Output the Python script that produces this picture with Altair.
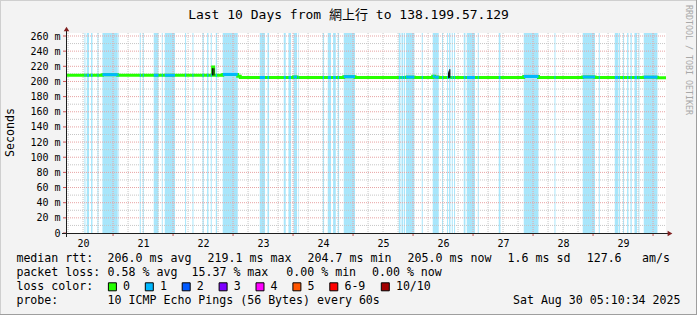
import altair as alt
import pandas as pd

# ---------------- data ----------------
TITLE = "Last 10 Days from 網上行 to 138.199.57.129"
X_START = 20 + (5 + 10 / 60 + 34 / 3600) / 24   # Aug 20 05:10:34
X_END = X_START + 10                             # Aug 30 05:10:34
Y_TOP = 260 * 200 / 197                          # value at the top edge of the canvas

day_labels = [20, 21, 22, 23, 24, 25, 26, 27, 28, 29]
major_x = [21, 22, 23, 24, 25, 26, 27, 28, 29, 30]
y_major = [20, 40, 60, 80, 100, 120, 140, 160, 180, 200, 220, 240, 260]
y_minor = [10, 30, 50, 70, 90, 110, 130, 150, 170, 190, 210, 230, 250]
y_ticks = [0, 20, 40, 60, 80, 100, 120, 140, 160, 180, 200, 220, 240, 260]

# packet-loss background bands (day of August)
band_start = [20.523, 20.562, 20.633, 20.740, 20.823, 21.090, 21.445, 21.495, 21.678, 21.812,
              21.862, 22.200, 22.323, 22.490, 22.567, 22.628, 22.712, 22.828, 23.445, 23.573,
              23.845, 23.923, 24.007, 24.090, 24.495, 24.578, 24.667, 24.745, 24.845, 25.762,
              25.807, 25.845, 25.883, 26.145, 26.328, 26.483, 26.567, 26.600, 26.645, 26.683,
              26.845, 26.895, 27.078, 27.428, 27.845, 28.357, 28.828, 29.095, 29.362, 29.433,
              29.500, 29.567, 29.623, 29.690, 29.757, 29.845]
band_end = [20.540, 20.600, 20.657, 20.757, 21.078, 21.100, 21.462, 21.512, 21.757, 21.828,
            22.033, 22.217, 22.340, 22.512, 22.590, 22.645, 22.733, 23.078, 23.533, 23.600,
            23.878, 23.967, 24.067, 24.100, 24.517, 24.633, 24.712, 24.767, 25.033, 25.790,
            25.833, 25.867, 26.023, 26.162, 26.428, 26.500, 26.583, 26.623, 26.662, 26.700,
            26.873, 27.033, 27.095, 27.457, 28.090, 28.373, 29.033, 29.112, 29.423, 29.450,
            29.517, 29.590, 29.645, 29.733, 29.773, 30.073]

# median rtt (ms), step changes
med_day = [X_START, 20.823, 21.078, 22.660, 22.677, 22.828, 23.078, 23.120, 24.007, 24.067,
           24.845, 25.033, 25.883, 26.023, 26.328, 26.360, 26.428, 27.845, 28.090, 28.828,
           29.033, 29.845, 30.073]
med_ms = [208.2, 209.0, 208.2, 219.1, 208.2, 209.3, 206.8, 205.2, 205.8, 205.2,
          206.3, 205.2, 205.7, 205.2, 206.8, 205.6, 205.2, 206.6, 205.2, 205.9,
          205.2, 205.7, 205.0]

# smoke above the median
smoke_start = [20.823, 22.828, 24.845, 25.883, 26.328, 27.845, 28.828, 29.845]
smoke_end = [21.078, 23.078, 25.033, 26.023, 26.428, 28.090, 29.033, 30.073]
smoke_top = [211.0, 211.0, 208.5, 207.5, 208.0, 208.8, 207.6, 207.2]

# dark smoke spikes
spike_day = [22.656, 22.681, 26.592, 26.600, 26.612]
spike_low = [208.0, 208.0, 205.0, 205.0, 205.0]
spike_high = [217.5, 217.5, 212.0, 214.0, 216.0]

rtt_parts = ["206.0 ms avg", "219.1 ms max", "204.7 ms min", "205.0 ms now", "1.6 ms sd", "127.6", "am/s"]
loss_parts = ["0.58 % avg", "15.37 % max", "0.00 % min", "0.00 % now"]
loss_labels = ["0", "1", "2", "3", "4", "5", "6-9", "10/10"]
loss_colors = ["#26ff00", "#00b8ff", "#0059ff", "#7e00ff", "#ff00ff", "#ff5500", "#ff0000", "#a10000"]
probe_text = "10 ICMP Echo Pings (56 Bytes) every 60s"
stamp_text = "Sat Aug 30 05:10:34 2025"

# ---------------- layout ----------------
W, H = 697, 315
OX, OY = 66, 33          # canvas origin in page pixels
PW, PH = 600, 200
MONO = "DejaVu Sans Mono"
BAND_C = "#a8e6fb"
MGRID_C = "#e8a3a3"
GRID_C = "#c6c6c6"
ARROW_C = "#7f1f1f"

xs = alt.Scale(domain=[X_START, X_END], nice=False, zero=False)
ys = alt.Scale(domain=[0, Y_TOP], nice=False, zero=True)

XAX = alt.Axis(values=[d + 0.5 for d in day_labels], labelExpr="floor(datum.value)",
               grid=False, ticks=False, domain=False, labelFont=MONO,
               labelFontSize=10, labelColor="#000000", labelPadding=5,
               labelAngle=0, labelAlign="center", labelBaseline="top")
YAX = alt.Axis(values=y_ticks,
               labelExpr="datum.value == 0 ? '0\u00a0\u00a0' : datum.value + ' m'",
               grid=False, domain=False, ticks=False, labelFont=MONO, labelFontSize=10,
               labelColor="#000000", labelPadding=6, labelAlign="right", labelBaseline="middle",
               titleFont=MONO, titleFontSize=11.6, titleFontWeight="normal", titleColor="#000000",
               titleX=-56, titleY=132 - OY, titleAngle=270, titleBaseline="middle",
               titleAlign="center")


def X(f):
    return alt.X(f, scale=xs, axis=XAX, title=None)


def Y(f):
    return alt.Y(f, scale=ys, axis=YAX, title="Seconds")


# ---------------- derived tables ----------------
bands = pd.DataFrame({"s": band_start, "e": band_end})


def med_at(t):
    v = med_ms[0]
    for d, m in zip(med_day, med_ms):
        if d <= t:
            v = m
    return v


line_df = pd.DataFrame({"d": med_day + [X_END], "ms": med_ms + [med_ms[-1]]})

cuts = sorted(set(med_day + band_start + band_end + [X_END]))
segs = []
for a, b in zip(cuts[:-1], cuts[1:]):
    mid = (a + b) / 2
    if any(s <= mid <= e for s, e in zip(band_start, band_end)):
        segs.append({"a": a, "b": b, "ms": med_at(mid)})
seg_df = pd.DataFrame(segs)

smoke_df = pd.DataFrame({"s": smoke_start, "e": smoke_end, "top": smoke_top,
                         "low": [med_at((a + b) / 2) for a, b in zip(smoke_start, smoke_end)]})
spike_df = pd.DataFrame({"d": spike_day, "lo": spike_low, "hi": spike_high})

minor_x = [20 + q / 4 for q in range(1, 41) if q % 4 != 0 and X_START <= 20 + q / 4 <= X_END]
gx_major = pd.DataFrame({"d": major_x})
gx_minor = pd.DataFrame({"d": minor_x})
gy_major = pd.DataFrame({"v": y_major})
gy_minor = pd.DataFrame({"v": y_minor})

ONE = alt.Data(values=[{"k": 0}])


def txt(s, x, y, align="left", size=11.6, color="#000000", angle=0, font=MONO):
    return alt.Chart(ONE).mark_text(
        text=s, align=align, baseline="middle", fontSize=size, font=font,
        color=color, angle=angle
    ).encode(x=alt.value(x - OX), y=alt.value(y - OY))


def hline(x0, x1, y, color, w=1):
    return alt.Chart(ONE).mark_rule(color=color, strokeWidth=w).encode(
        x=alt.value(x0 - OX), x2=alt.value(x1 - OX), y=alt.value(y - OY))


def vline(x, y0, y1, color, w=1):
    return alt.Chart(ONE).mark_rule(color=color, strokeWidth=w).encode(
        x=alt.value(x - OX), y=alt.value(y0 - OY), y2=alt.value(y1 - OY))


layers = []

# frame of the whole image
layers += [hline(0, W, 0.5, "#cfcfcf"), vline(0.5, 0, H, "#cfcfcf"),
           hline(0, W, H - 0.5, "#9e9e9e"), vline(W - 0.5, 0, H, "#9e9e9e")]

# loss bands
layers.append(alt.Chart(bands).mark_rect(color=BAND_C).encode(
    x=X("s:Q"), x2="e:Q", y=alt.value(0), y2=alt.value(PH)))

# grid
layers.append(alt.Chart(gx_minor).mark_rule(color=GRID_C, strokeDash=[1, 1], strokeWidth=1).encode(
    x=X("d:Q"), y=alt.value(0), y2=alt.value(PH)))
layers.append(alt.Chart(gy_minor).mark_rule(color=GRID_C, strokeDash=[1, 1], strokeWidth=1).encode(
    y=Y("v:Q"), x=alt.value(0), x2=alt.value(PW)))
layers.append(alt.Chart(gx_major).mark_rule(color=MGRID_C, strokeDash=[1, 1], strokeWidth=1).encode(
    x=X("d:Q"), y=alt.value(0), y2=alt.value(PH)))
layers.append(alt.Chart(gy_major).mark_rule(color=MGRID_C, strokeDash=[1, 1], strokeWidth=1).encode(
    y=Y("v:Q"), x=alt.value(0), x2=alt.value(PW)))

# smoke
layers.append(alt.Chart(smoke_df).mark_rect(color="#a8a8a8").encode(
    x=X("s:Q"), x2="e:Q", y=Y("top:Q"), y2="low:Q"))

# median line (0 loss colour)
layers.append(alt.Chart(line_df).mark_line(color=loss_colors[0], strokeWidth=3,
                                           interpolate="step-after").encode(
    x=X("d:Q"), y=Y("ms:Q")))

# loss = 1 segments
layers.append(alt.Chart(seg_df).mark_rule(color=loss_colors[1], strokeWidth=3, strokeCap="butt").encode(
    x=X("a:Q"), x2="b:Q", y=Y("ms:Q")))

# dark smoke spikes
layers.append(alt.Chart(spike_df).mark_rule(color="#111111", strokeWidth=1.2).encode(
    x=X("d:Q"), y=Y("lo:Q"), y2="hi:Q"))

# axis ticks (major) in red
layers.append(alt.Chart(gx_major).mark_rule(color="#d05050", strokeWidth=1).encode(
    x=X("d:Q"), y=alt.value(PH), y2=alt.value(PH + 3)))
layers.append(alt.Chart(pd.DataFrame({"v": y_ticks})).mark_rule(color="#d05050", strokeWidth=1).encode(
    y=Y("v:Q"), x=alt.value(-3), x2=alt.value(0)))

# axis lines and arrows
layers.append(hline(62, 669, 233.5, "#1f1f1f"))
layers.append(vline(OX + 0.5, 30, 237, "#1f1f1f"))
layers.append(alt.Chart(ONE).mark_point(shape="triangle-right", filled=True, size=30,
                                        color=ARROW_C, opacity=1).encode(
    x=alt.value(670 - OX), y=alt.value(233.5 - OY)))
layers.append(alt.Chart(ONE).mark_point(shape="triangle-up", filled=True, size=30,
                                        color=ARROW_C, opacity=1).encode(
    x=alt.value(0.5), y=alt.value(29 - OY)))

# title and watermark
layers.append(txt(TITLE, 348.5, 15, align="center", size=13, font=MONO + ", Noto Sans CJK TC"))
layers.append(txt("RRDTOOL / TOBI OETIKER", 688, 60, align="center", size=8.3,
                  color="#a8a8a8", angle=90))

# legend rows
rows_y = [259.3, 273.3, 287.3, 301.3]
layers.append(txt("median rtt:", 16.4, rows_y[0]))
for s, x in zip(rtt_parts, [107.6, 207.6, 307.6, 407.6, 507.6, 586.7, 642.0]):
    layers.append(txt(s, x, rows_y[0]))
layers.append(txt("packet loss:", 16.4, rows_y[1]))
for s, x in zip(loss_parts, [107.6, 191.5, 286.3, 372.0]):
    layers.append(txt(s, x, rows_y[1]))
layers.append(txt("loss color:", 16.4, rows_y[2]))
box_x = [108.4, 145.3, 182.2, 219.1, 256.0, 292.9, 329.8, 381.3]
for lab, col, bx in zip(loss_labels, loss_colors, box_x):
    layers.append(alt.Chart(ONE).mark_rect(fill=col, stroke="#000000", strokeWidth=1).encode(
        x=alt.value(bx - OX), x2=alt.value(bx + 8 - OX),
        y=alt.value(rows_y[2] - 4.5 - OY), y2=alt.value(rows_y[2] + 3.5 - OY)))
    layers.append(txt(lab, bx + 14.6, rows_y[2]))
layers.append(txt("probe:", 16.4, rows_y[3]))
layers.append(txt(probe_text, 107.6, rows_y[3]))
layers.append(txt(stamp_text, 680.5, rows_y[3], align="right"))

chart = alt.layer(*layers).properties(
    width=PW, height=PH,
    autosize=alt.AutoSizeParams(type="none"),
    padding={"left": OX, "top": OY, "right": W - OX - PW, "bottom": H - OY - PH},
    background="#f3f3f3",
).configure_view(stroke=None, fill="#ffffff")

chart.save("out.html", embed_options={"renderer": "svg", "actions": False})
